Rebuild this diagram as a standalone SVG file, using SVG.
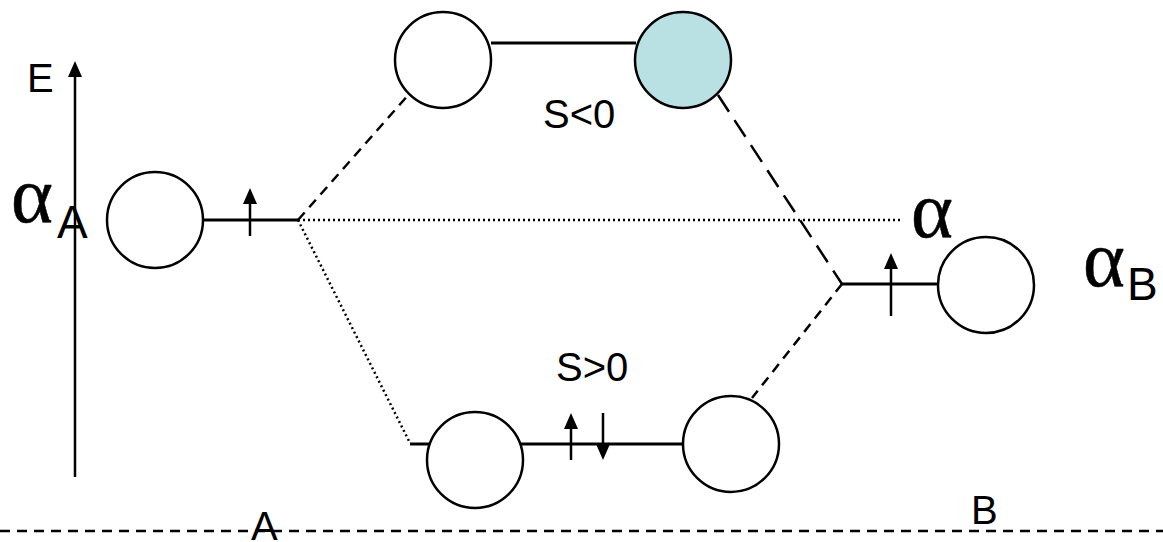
<svg xmlns="http://www.w3.org/2000/svg" width="1163" height="542" viewBox="0 0 1163 542">
<style>
.orb{fill:#fff;stroke:#000;stroke-width:2.5}
.ln{stroke:#000;stroke-width:3;fill:none}
.ax{stroke:#000;stroke-width:2.5;fill:none}
.dsh{stroke:#000;stroke-width:2.5;fill:none;stroke-dasharray:10 7}
.ldsh{stroke:#000;stroke-width:2.5;fill:none;stroke-dasharray:20 10}
.dot{stroke:#000;stroke-width:2.5;fill:none;stroke-dasharray:2 3}
.t{font-family:"Liberation Sans",Arial,sans-serif;font-size:40px;fill:#000}
.g{font-family:"Liberation Serif","Times New Roman",serif;font-size:80px;fill:#000;stroke:#000;stroke-width:0.5}
</style>
<g id="baseline"><line class="dsh" x1="0" y1="531" x2="1163" y2="531"/></g>
<g id="axis">
<line class="ax" x1="75" y1="477" x2="75" y2="74"/>
<polygon points="75,61 68,77 82,77" fill="#000"/>
<text class="t" x="27" y="92">E</text>
</g>
<g id="connectors">
<line class="ln" x1="203" y1="220" x2="298" y2="220"/>
<line class="ln" x1="491" y1="43" x2="636" y2="43"/>
<line class="ln" x1="410" y1="444" x2="683" y2="444"/>
<line class="ln" x1="842" y1="284" x2="938" y2="284"/>
<line class="dsh" x1="298" y1="220" x2="410" y2="93"/>
<line class="ldsh" x1="718" y1="95" x2="842" y2="284"/>
<line class="dsh" x1="842" y1="284" x2="752" y2="398"/>
<line class="dot" x1="298" y1="220" x2="903" y2="220"/>
<line class="dot" x1="298" y1="220" x2="410" y2="443"/>
</g>
<g id="orbA"><circle class="orb" cx="155" cy="220" r="48"/></g>
<g id="orbTopL"><circle class="orb" cx="443" cy="60" r="48"/></g>
<g id="orbTopR"><circle class="orb" cx="683" cy="60" r="48" style="fill:#b9e0e3"/></g>
<g id="orbBotL"><circle class="orb" cx="475" cy="460" r="48"/></g>
<g id="orbBotR"><circle class="orb" cx="731" cy="444" r="48"/></g>
<g id="orbB"><circle class="orb" cx="986" cy="285" r="48"/></g>
<g id="electrons">
<line class="ax" x1="250" y1="236" x2="250" y2="200"/>
<polygon points="250,188 243,204 257,204" fill="#000"/>
<line class="ax" x1="571" y1="460" x2="571" y2="425"/>
<polygon points="571,413 564,429 578,429" fill="#000"/>
<line class="ax" x1="603" y1="413" x2="603" y2="448"/>
<polygon points="603,460 596,444 610,444" fill="#000"/>
<line class="ax" x1="891" y1="316" x2="891" y2="265"/>
<polygon points="891,253 884,269 898,269" fill="#000"/>
</g>
<g id="labels">
<text class="t" x="543" y="128">S&lt;0</text>
<text class="t" x="556" y="381">S&gt;0</text>
<text class="t" x="251" y="540">A</text>
<text class="t" x="971" y="524">B</text>
<text class="g" x="11" y="222">α</text>
<text class="t" x="57" y="238" style="font-size:46px">A</text>
<text class="g" x="911" y="237">α</text>
<text class="g" x="1083" y="286">α</text>
<text class="t" x="1127" y="300" style="font-size:46px">B</text>
</g>
</svg>
